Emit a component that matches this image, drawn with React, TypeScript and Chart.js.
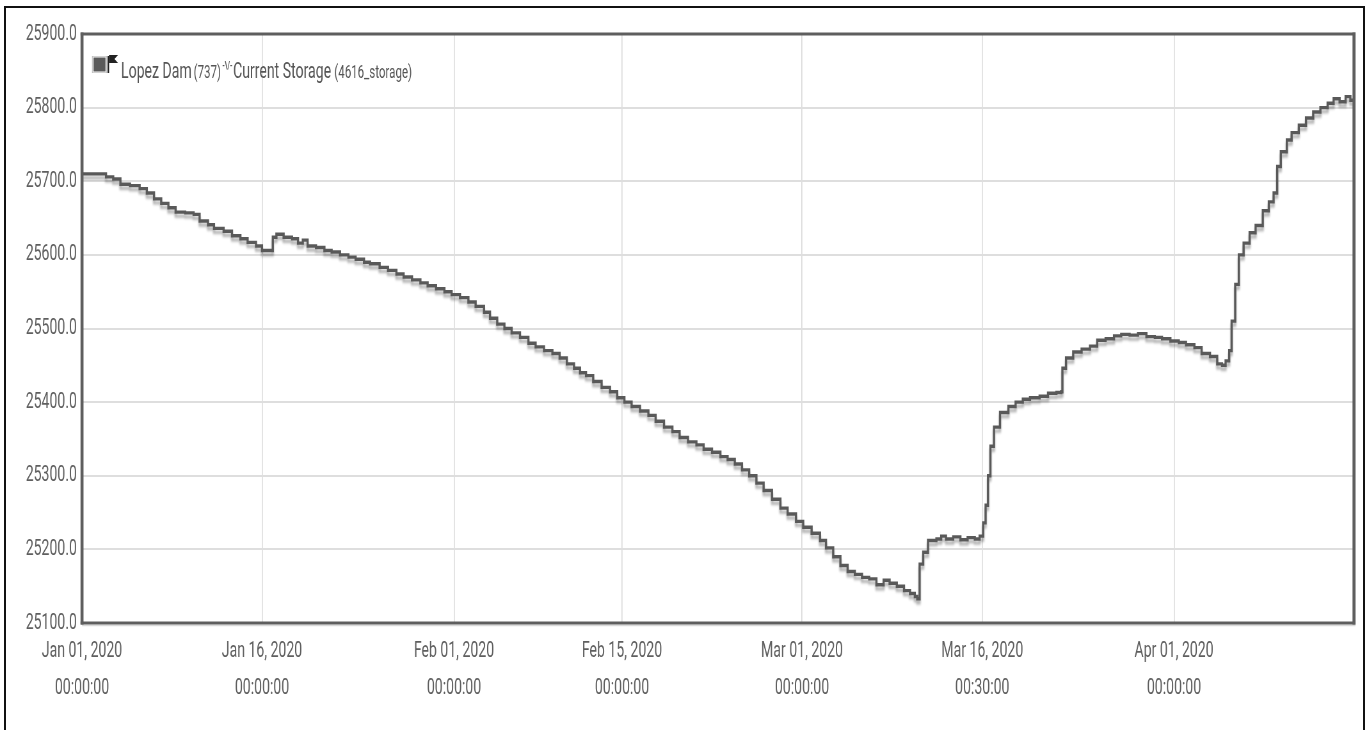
import React, { useEffect, useRef } from "react";
import { Chart, registerables } from "chart.js";

Chart.register(...registerables);

// ---------- data ----------
const days = [
  0, 1.5, 2, 2.6, 3.2, 4, 4.8, 5.4, 6, 6.6, 7.2, 7.8, 8.6, 9.3, 9.8, 10.5, 11, 11.8, 12.5, 13.2,
  13.8, 14.5, 15, 15.6, 15.9, 16.2, 16.8, 17.5, 18, 18.4, 18.8, 19.5, 20.2, 20.8, 21.5, 22.2,
  22.8, 23.5, 24, 24.8, 25.5, 26.2, 26.8, 27.5, 28.2, 28.8, 29.5, 30.2, 30.8, 31.5, 32.2, 32.8,
  33.5, 34, 34.6, 35.2, 35.8, 36.5, 37.2, 37.8, 38.5, 39.2, 39.8, 40.4, 41, 41.5, 42, 42.6, 43.3,
  44, 44.6, 45.2, 45.8, 46.5, 47.2, 47.8, 48.5, 49.2, 49.8, 50.5, 51.2, 51.8, 52.5, 53.2, 53.8,
  54.4, 55, 55.6, 56.2, 56.8, 57.5, 58.2, 58.8, 59.5, 60.1, 60.8, 61.5, 62, 62.6, 63.2, 63.8,
  64.4, 65, 65.6, 66.2, 66.8, 67.3, 67.9, 68.5, 69, 69.4, 69.6, 69.8, 70.1, 70.5, 71.2, 71.6, 72,
  72.6, 73.2, 73.8, 74.4, 74.8, 75.1, 75.3, 75.5, 75.7, 76, 76.5, 77.2, 77.8, 78.4, 79, 79.8,
  80.5, 81.2, 81.6, 81.7, 82, 82.6, 83.3, 84, 84.6, 85.3, 86, 86.6, 87.3, 88, 88.7, 89.4, 90,
  90.7, 91.4, 92, 92.7, 93.3, 94, 94.6, 95, 95.3, 95.6, 95.8, 96.1, 96.4, 96.8, 97.3, 97.8, 98.4,
  98.9, 99.3, 99.6, 99.9, 100.4, 100.8, 101.4, 102, 102.6, 103.2, 103.8, 104.3, 104.8, 105.3,
  105.7, 106,
];

const storage = [
  25710, 25710, 25706, 25703, 25696, 25694, 25690, 25684, 25676, 25670, 25664, 25658, 25657,
  25655, 25646, 25641, 25636, 25632, 25626, 25622, 25617, 25612, 25606, 25606, 25624, 25628,
  25624, 25622, 25616, 25620, 25612, 25610, 25606, 25604, 25600, 25597, 25594, 25590, 25588,
  25583, 25579, 25574, 25570, 25566, 25562, 25558, 25554, 25550, 25546, 25542, 25536, 25530,
  25522, 25514, 25506, 25500, 25494, 25488, 25480, 25475, 25470, 25466, 25460, 25452, 25446,
  25440, 25436, 25428, 25420, 25414, 25406, 25400, 25394, 25388, 25382, 25374, 25366, 25360,
  25352, 25346, 25342, 25336, 25332, 25326, 25322, 25316, 25308, 25300, 25290, 25280, 25268,
  25256, 25248, 25238, 25230, 25222, 25212, 25202, 25190, 25178, 25170, 25166, 25162, 25160,
  25152, 25158, 25154, 25150, 25144, 25140, 25136, 25133, 25180, 25196, 25212, 25214, 25218,
  25214, 25217, 25213, 25216, 25214, 25218, 25236, 25260, 25300, 25340, 25366, 25386, 25394,
  25400, 25404, 25406, 25408, 25412, 25413, 25414, 25446, 25460, 25468, 25472, 25476, 25484,
  25486, 25490, 25492, 25491, 25493, 25489, 25488, 25486, 25483, 25481, 25478, 25474, 25466,
  25462, 25452, 25450, 25456, 25470, 25510, 25560, 25600, 25616, 25630, 25640, 25660, 25672,
  25684, 25720, 25740, 25756, 25766, 25776, 25786, 25794, 25800, 25806, 25812, 25808, 25815,
  25810, 25806,
];

const tickDays = [0, 15, 31, 45, 60, 75 + 0.5 / 24, 91];
const tickDates = [
  "Jan 01, 2020",
  "Jan 16, 2020",
  "Feb 01, 2020",
  "Feb 15, 2020",
  "Mar 01, 2020",
  "Mar 16, 2020",
  "Apr 01, 2020",
];
const tickTimes = ["00:00:00", "00:00:00", "00:00:00", "00:00:00", "00:00:00", "00:30:00", "00:00:00"];

const yMin = 25100;
const yMax = 25900;
const yStep = 100;
const xMin = 0;
const xMax = 106;

const stationName = "Lopez Dam";
const stationId = "(737)";
const paramName = "Current Storage";
const paramId = "(4616_storage)";

// ---------- layout ----------
const W = 1365;
const H = 730;
const SX = 0.64; // horizontal condensing of the whole drawing
const CW = Math.ceil(W / SX);
const FONT = 'Roboto, "Noto Sans", sans-serif';
const PLOT_L = 82 / SX;
const PLOT_R = 1354 / SX;
const PLOT_T = 34;
const PLOT_B = 623;

const lineShadow = {
  id: "lineShadow",
  beforeDatasetDraw(chart: any) {
    const ctx = chart.ctx;
    ctx.save();
    ctx.shadowColor = "rgba(0,0,0,0.3)";
    ctx.shadowBlur = 3;
    ctx.shadowOffsetX = 0;
    ctx.shadowOffsetY = 4;
  },
  afterDatasetDraw(chart: any) {
    chart.ctx.restore();
  },
};

const frameAndLegend = {
  id: "frameAndLegend",
  afterDraw(chart: any) {
    const ctx = chart.ctx;
    const { left, right, top, bottom } = chart.chartArea;
    ctx.save();
    // plot border
    ctx.strokeStyle = "#5e5e5e";
    ctx.lineWidth = 3;
    ctx.beginPath();
    ctx.moveTo(left - 2.3, top);
    ctx.lineTo(right + 2.3, top);
    ctx.moveTo(left - 2.3, bottom);
    ctx.lineTo(right + 2.3, bottom);
    ctx.stroke();
    ctx.lineWidth = 3 / SX;
    ctx.beginPath();
    ctx.moveTo(left, top - 1.5);
    ctx.lineTo(left, bottom + 1.5);
    ctx.moveTo(right, top - 1.5);
    ctx.lineTo(right, bottom + 1.5);
    ctx.stroke();
    // soft edge under the bottom border
    ctx.strokeStyle = "rgba(0,0,0,0.15)";
    ctx.lineWidth = 1.5;
    ctx.beginPath();
    ctx.moveTo(left, bottom + 2.5);
    ctx.lineTo(right + 2.3, bottom + 2.5);
    ctx.stroke();

    // legend
    const fx = (x: number) => x / SX;
    ctx.fillStyle = "#bdbdbd";
    ctx.fillRect(fx(92), 56, fx(107) - fx(92), 17);
    ctx.fillStyle = "#ffffff";
    ctx.fillRect(fx(92.7), 56.7, fx(106.3) - fx(92.7), 15.6);
    ctx.fillStyle = "#5a5a5a";
    ctx.fillRect(fx(93.5), 57.5, fx(105.5) - fx(93.5), 14);
    ctx.fillStyle = "#222";
    ctx.fillRect(fx(107.5), 56, 1.6 / SX, 17);
    ctx.beginPath();
    ctx.moveTo(fx(109), 55);
    ctx.lineTo(fx(118), 55);
    ctx.lineTo(fx(114.5), 59);
    ctx.lineTo(fx(118), 63);
    ctx.lineTo(fx(109), 63);
    ctx.closePath();
    ctx.fill();

    const base = 78;
    let x = fx(121);
    ctx.fillStyle = "#555";
    ctx.textBaseline = "alphabetic";
    ctx.textAlign = "left";
    ctx.font = `22px ${FONT}`;
    ctx.fillText(stationName, x, base);
    x += ctx.measureText(stationName).width + 3;
    ctx.font = `18px ${FONT}`;
    ctx.fillText(stationId, x, base);
    x += ctx.measureText(stationId).width + 2;
    ctx.font = `bold 10px ${FONT}`;
    ctx.fillText("-\\/-", x, base - 9);
    x += ctx.measureText("-\\/-").width + 1;
    ctx.font = `22px ${FONT}`;
    ctx.fillText(paramName, x, base);
    x += ctx.measureText(paramName).width + 5;
    ctx.font = `18px ${FONT}`;
    ctx.fillText(paramId, x, base);
    ctx.restore();
  },
};

export default function App() {
  const ref = useRef<HTMLCanvasElement | null>(null);

  useEffect(() => {
    if (!ref.current) return;
    const points = days.map((d, i) => ({ x: d, y: storage[i] }));
    const chart = new Chart(ref.current, {
      type: "line",
      data: {
        datasets: [
          {
            label: `${stationName} ${stationId} ${paramName} ${paramId}`,
            data: points,
            borderColor: "#595959",
            borderWidth: 3.4,
            pointRadius: 0,
            stepped: "before",
            fill: false,
          },
        ],
      },
      options: {
        animation: false,
        responsive: true,
        maintainAspectRatio: false,
        parsing: false as any,
        layout: { padding: { left: 0, top: PLOT_T, right: CW - PLOT_R, bottom: 0 } },
        plugins: {
          legend: { display: false },
          tooltip: { enabled: false },
          title: { display: false },
        },
        scales: {
          x: {
            type: "linear",
            min: xMin,
            max: xMax,
            afterFit(scale: any) {
              scale.height = H - PLOT_B;
            },
            afterBuildTicks(scale: any) {
              scale.ticks = tickDays.map((v) => ({ value: v }));
            },
            grid: { color: "#d9d9d9", lineWidth: 1.6, drawTicks: false },
            border: { display: false },
            ticks: {
              autoSkip: false,
              maxRotation: 0,
              minRotation: 0,
              padding: 10,
              color: "#5f5f5f",
              font: { family: FONT, size: 22, lineHeight: 1.68 },
              callback: (_v: any, i: number) => [tickDates[i], tickTimes[i]],
            },
          },
          y: {
            type: "linear",
            min: yMin,
            max: yMax,
            afterFit(scale: any) {
              scale.width = PLOT_L;
            },
            grid: { color: "#dedede", lineWidth: 2, drawTicks: false },
            border: { display: false },
            ticks: {
              stepSize: yStep,
              padding: 8,
              color: "#5f5f5f",
              font: { family: FONT, size: 22 },
              callback: (v: any) => Number(v).toFixed(1),
            },
          },
        },
      },
      plugins: [lineShadow, frameAndLegend],
    });
    return () => chart.destroy();
  }, []);

  return (
    <div
      style={{
        position: "absolute",
        left: 0,
        top: 0,
        width: W,
        height: H,
        overflow: "hidden",
        background: "#fff",
      }}
    >
      <div
        style={{
          position: "absolute",
          left: 0,
          top: 0,
          width: CW,
          height: H,
          transform: `scaleX(${SX})`,
          transformOrigin: "0 0",
        }}
      >
        <canvas ref={ref} />
      </div>
      <div
        style={{
          position: "absolute",
          left: 4,
          top: 6,
          width: 1361,
          height: H + 20,
          border: "2px solid #111",
          boxSizing: "border-box",
          pointerEvents: "none",
        }}
      />
    </div>
  );
}
